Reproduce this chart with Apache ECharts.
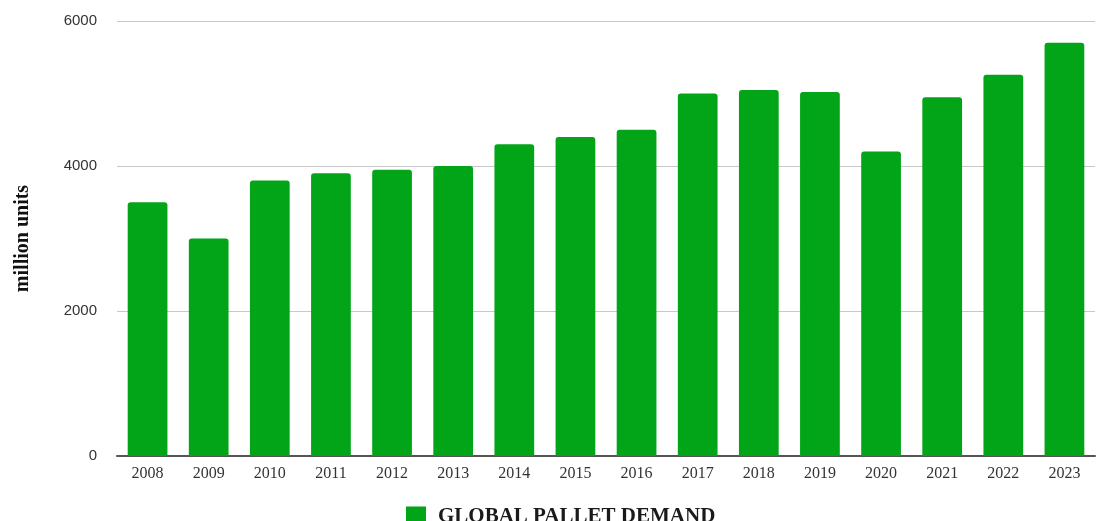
<!DOCTYPE html>
<html>
<head>
<meta charset="utf-8">
<script src="https://cdn.jsdelivr.net/npm/echarts@6/dist/echarts.min.js"></script>
<style>
  html, body { margin: 0; padding: 0; background: #fff; }
  #chart { width: 1097px; height: 521px; }
</style>
</head>
<body>
<div id="chart"></div>
<script>
const years = ['2008', '2009', '2010', '2011', '2012', '2013', '2014', '2015',
  '2016', '2017', '2018', '2019', '2020', '2021', '2022', '2023'];
const demand = [3500, 3000, 3800, 3900, 3950, 4000, 4300, 4400,
  4500, 5000, 5050, 5020, 4200, 4950, 5260, 5700];
const seriesName = 'GLOBAL PALLET DEMAND';
const yTitle = 'million units';

const chart = echarts.init(document.getElementById('chart'));

const option = {
  animation: false,
  grid: { left: 117, right: 2, top: 21, bottom: 65 },
  legend: {
    data: [seriesName],
    left: 401,
    top: 501,
    icon: 'rect',
    itemWidth: 20,
    itemHeight: 20,
    itemGap: 10,
    textStyle: {
      fontFamily: 'Liberation Serif',
      fontWeight: 'bold',
      fontSize: 21,
      color: '#1a1a1a',
      padding: [0, 0, 0, 7]
    }
  },
  xAxis: {
    type: 'category',
    data: years,
    axisTick: { show: false },
    axisLine: { lineStyle: { color: '#555', width: 2 } },
    axisLabel: {
      fontFamily: 'Liberation Serif',
      fontSize: 16,
      color: '#333',
      margin: 10
    }
  },
  yAxis: {
    type: 'value',
    min: 0,
    max: 6000,
    interval: 2000,
    name: yTitle,
    nameLocation: 'middle',
    nameRotate: 90,
    nameGap: 84,
    nameTextStyle: {
      fontFamily: 'Liberation Serif',
      fontWeight: 'bold',
      fontSize: 20,
      color: '#111'
    },
    axisLabel: {
      fontFamily: 'Liberation Sans',
      fontSize: 15,
      color: '#333',
      margin: 20,
      formatter: (v) => String(v)
    },
    splitLine: { lineStyle: { color: '#c8c8c8', width: 1 } }
  },
  series: [{
    name: seriesName,
    type: 'bar',
    data: demand,
    barCategoryGap: '35%',
    itemStyle: { color: '#01a517', borderRadius: [3, 3, 0, 0] }
  }]
};

chart.setOption(option);
</script>
</body>
</html>
